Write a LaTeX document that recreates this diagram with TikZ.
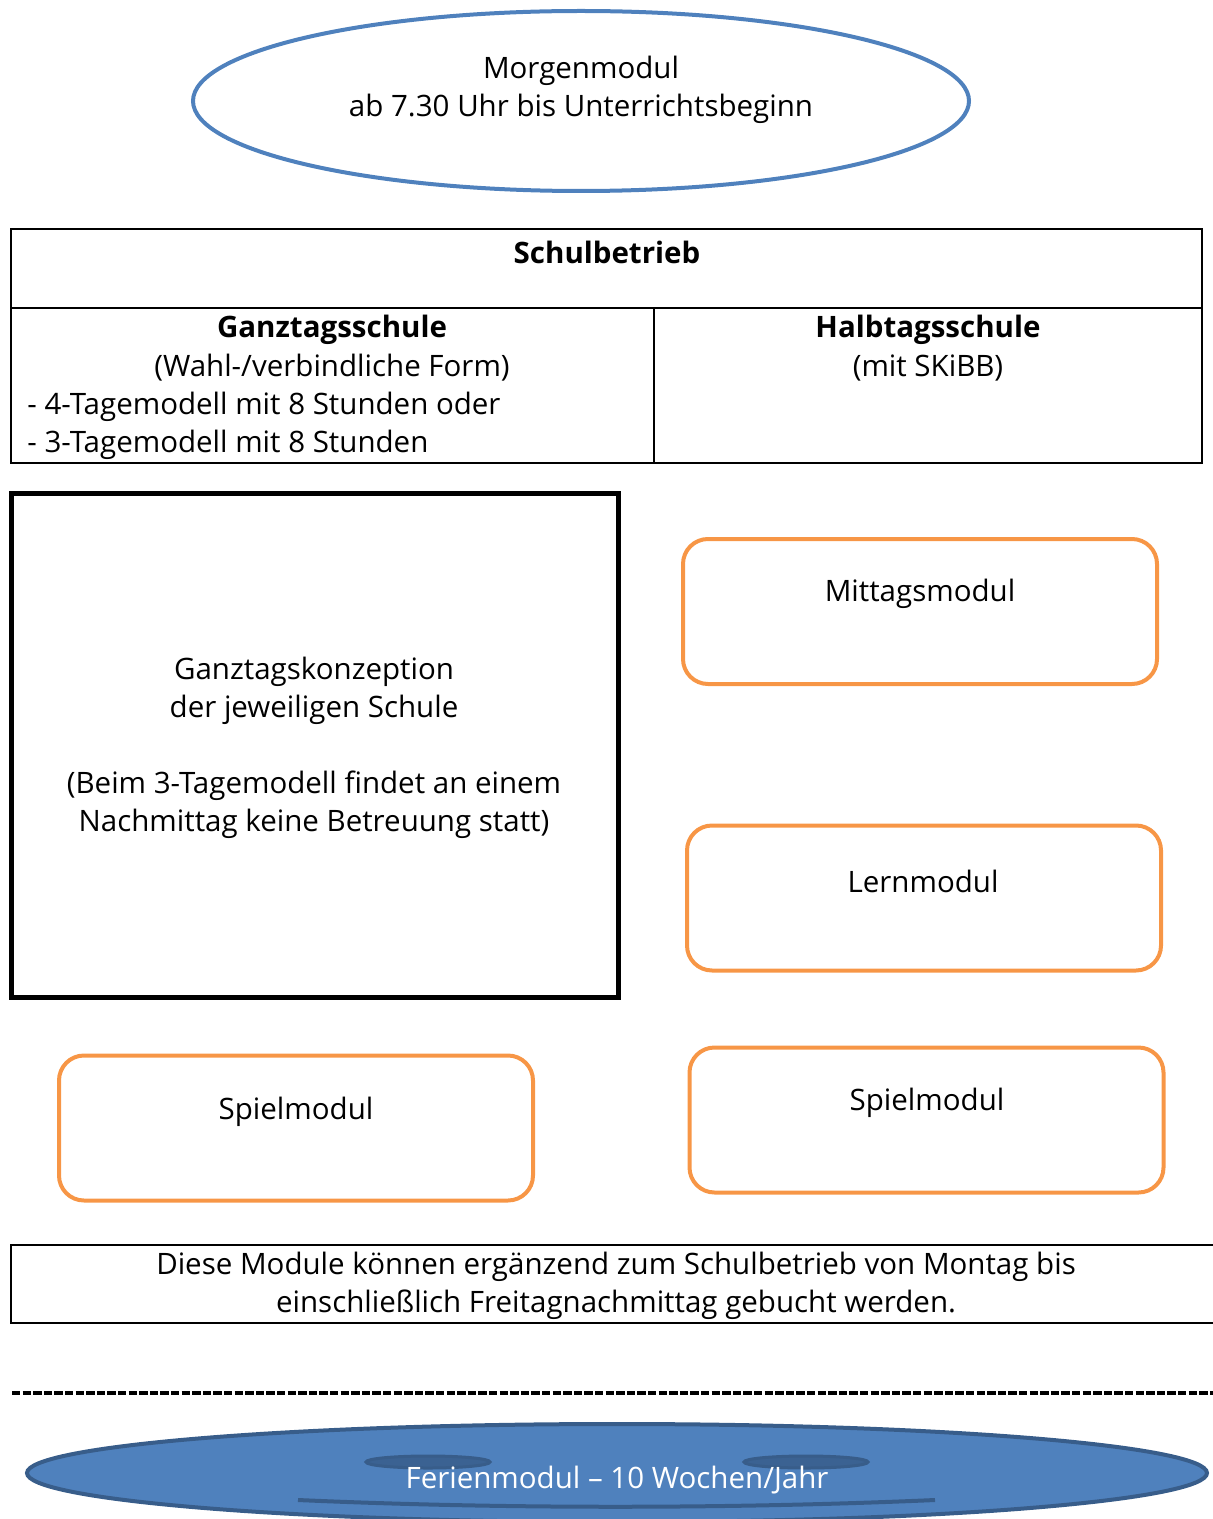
\documentclass[tikz,border=0pt]{standalone}
\usepackage{fontspec}
\setmainfont{Open Sans}
\usetikzlibrary{shapes.geometric}
\definecolor{accblue}{HTML}{4F81BD}
\definecolor{darkblue}{HTML}{385D8A}
\definecolor{accorange}{HTML}{F79646}
\tikzset{
  txt/.style={inner sep=0pt, align=center, font=\fontsize{14.75}{19}\selectfont},
  hdr/.style={txt, font=\fontsize{14.75}{19}\selectfont\bfseries},
  modbox/.style={draw=accorange, line width=2pt, rounded corners=12.5pt,
    minimum width=237pt, minimum height=72.5pt, inner sep=0pt},
  tabline/.style={line width=0.75pt},
}
\begin{document}
\begin{tikzpicture}[x=0.5pt,y=-0.5pt]
\useasboundingbox (0,0) rectangle (1213,1519);
\clip (0,0) rectangle (1213,1519);

% Morgenmodul
\node[ellipse, draw=accblue, line width=2pt, minimum width=388pt, minimum height=90pt, inner sep=0pt] (morgen) at (581,101) {};
\node[txt] (morgentxt) at (581,90) {Morgenmodul\\ab 7.30 Uhr bis Unterrichtsbeginn};

% Schulbetrieb table
\coordinate (tl) at (11,229);
\coordinate (br) at (1202,463);
\coordinate (ml) at (11,308);
\coordinate (mr) at (1202,308);
\coordinate (vt) at (654,308);
\coordinate (vb) at (654,463);
\draw[tabline] (tl) rectangle (br);
\draw[tabline] (ml) -- (mr);
\draw[tabline] (vt) -- (vb);
\node[hdr] (schul) at (607,252) {Schulbetrieb};
\node[hdr] (ganz) at (332,330) {Ganztagsschule};
\node[txt] (wahl) at (332,368) {(Wahl-/verbindliche Form)};
\node[txt, anchor=west] (vier) at (27,407) {- 4-Tagemodell mit 8 Stunden oder};
\node[txt, anchor=west] (drei) at (27,445) {- 3-Tagemodell mit 8 Stunden};
\node[hdr] (halb) at (928,330) {Halbtagsschule};
\node[txt] (skibb) at (928,368) {(mit SKiBB)};

% Ganztagskonzeption box
\node[draw, line width=2.5pt, minimum width=303.5pt, minimum height=252pt, inner sep=0pt] (konz) at (314.5,745) {};
\node[txt] (konztxt) at (314,747.5) {Ganztagskonzeption\\der jeweiligen Schule\\[19pt](Beim 3-Tagemodell findet an einem\\Nachmittag keine Betreuung statt)};

% Module boxes
\node[modbox] (mittag) at (920,611.5) {};
\node[txt] (mittagtxt) at (920,594) {Mittagsmodul};
\node[modbox] (lern) at (924,898) {};
\node[txt] (lerntxt) at (923,881) {Lernmodul};
\node[modbox] (spiell) at (296,1128) {};
\node[txt] (spielltxt) at (296,1112) {Spielmodul};
\node[modbox] (spielr) at (926.5,1120) {};
\node[txt] (spielrtxt) at (927,1103) {Spielmodul};

% Hinweis box (open on the right)
\coordinate (h1) at (1240,1245);
\coordinate (h2) at (11,1245);
\coordinate (h3) at (11,1323);
\coordinate (h4) at (1240,1323);
\draw[line width=1pt] (h1) -- (h2) -- (h3) -- (h4);
\node[txt] (hinweis) at (616,1286) {Diese Module können ergänzend zum Schulbetrieb von Montag bis\\einschließlich Freitagnachmittag gebucht werden.};

% dashed separator
\coordinate (d1) at (12,1393);
\coordinate (d2) at (1213,1393);
\draw[line width=2pt, dash pattern=on 4.2pt off 1.1pt] (d1) -- (d2);

% Ferienmodul smiley
\node[ellipse, fill=accblue, draw=darkblue, line width=2pt, minimum width=590pt, minimum height=49pt, inner sep=0pt] (ferien) at (617,1473) {};
\node[ellipse, fill=darkblue!85!accblue, draw=darkblue, line width=1.5pt, minimum width=62pt, minimum height=6pt, inner sep=0pt] (eyel) at (428,1462) {};
\node[ellipse, fill=darkblue!85!accblue, draw=darkblue, line width=1.5pt, minimum width=62pt, minimum height=6pt, inner sep=0pt] (eyer) at (806,1462) {};
\coordinate (m1) at (298,1500);
\coordinate (m2) at (935,1500);
\draw[darkblue, line width=2pt] (m1) .. controls (500,1509) and (730,1509) .. (m2);
\node[txt, text=white] (ferientxt) at (617,1480) {Ferienmodul – 10 Wochen/Jahr};
\end{tikzpicture}
\end{document}
